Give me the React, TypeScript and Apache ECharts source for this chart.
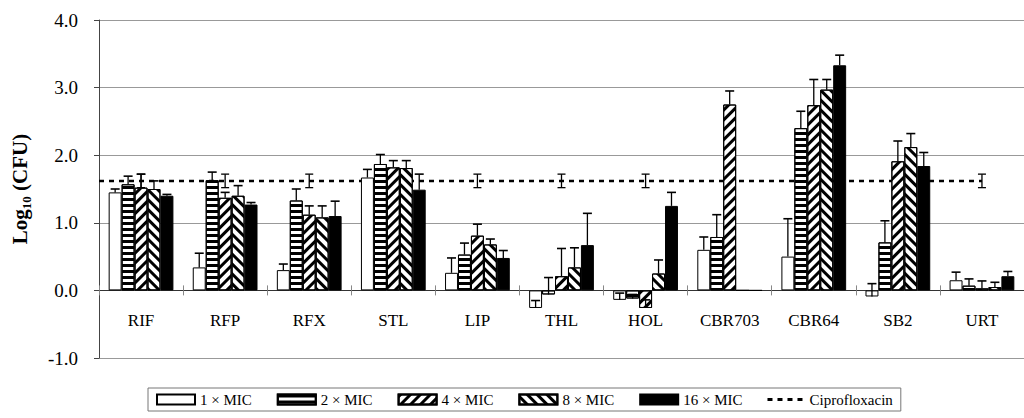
import React, { useEffect, useRef } from "react";
import * as echarts from "echarts";

const CATEGORIES = ["RIF", "RFP", "RFX", "STL", "LIP", "THL", "HOL", "CBR703", "CBR64", "SB2", "URT"];
const SERIES_NAMES = ["1 × MIC", "2 × MIC", "4 × MIC", "8 × MIC", "16 × MIC"];
const CIPRO_NAME = "Ciprofloxacin";

const MIC1 = [1.45, 0.34, 0.30, 1.67, 0.26, -0.26, -0.14, 0.60, 0.50, -0.09, 0.15];
const MIC1_ERR = [0.05, 0.21, 0.09, 0.12, 0.22, 0.11, 0.10, 0.19, 0.56, 0.19, 0.12];
const MIC2 = [1.57, 1.63, 1.33, 1.87, 0.53, -0.06, -0.12, 0.79, 2.40, 0.71, 0.07];
const MIC2_ERR = [0.12, 0.12, 0.17, 0.14, 0.17, 0.25, 0.06, 0.33, 0.25, 0.32, 0.10];
const MIC4 = [1.52, 1.37, 1.12, 1.82, 0.81, 0.21, -0.26, 2.75, 2.74, 1.91, 0.03];
const MIC4_ERR = [0.20, 0.08, 0.13, 0.10, 0.17, 0.41, 0.12, 0.20, 0.38, 0.30, 0.11];
const MIC8 = [1.50, 1.40, 1.08, 1.81, 0.68, 0.34, 0.25, 0, 2.97, 2.12, 0.05];
const MIC8_ERR = [0.12, 0.15, 0.17, 0.11, 0.08, 0.29, 0.20, 0, 0.15, 0.20, 0.07];
const MIC16 = [1.40, 1.27, 1.10, 1.49, 0.48, 0.67, 1.25, 0, 3.33, 1.84, 0.21];
const MIC16_ERR = [0.02, 0.03, 0.22, 0.23, 0.11, 0.47, 0.20, 0, 0.15, 0.20, 0.07];
const CIPRO = [1.62, 1.62, 1.62, 1.62, 1.62, 1.62, 1.62, 1.62, 1.62, 1.62, 1.62];
const CIPRO_ERR = [0.10, 0.10, 0.10, 0.10, 0.10, 0.10, 0.10, 0.10, 0.10, 0.10, 0.10];

const Y_MIN = -1;
const Y_MAX = 4;
const Y_STEP = 1;

const VALUES = [MIC1, MIC2, MIC4, MIC8, MIC16];
const ERRORS = [MIC1_ERR, MIC2_ERR, MIC4_ERR, MIC8_ERR, MIC16_ERR];

const FONT = "'Liberation Serif', 'Times New Roman', serif";
const GAP = 0.23;

const GRID_TOP = 20;
const GRID_BOTTOM = 60;
const CHART_H = 418;
// distance from bottom of plot (at Y_MIN) up to the zero line
const ZERO_OFFSET = ((CHART_H - GRID_TOP - GRID_BOTTOM) * (0 - Y_MIN)) / (Y_MAX - Y_MIN);

const DECALS: any[] = [
  null,
  { symbol: "rect", symbolSize: 1, dashArrayX: [1, 0], dashArrayY: [2.4, 2.4], rotation: 0, color: "#000" },
  { symbol: "rect", symbolSize: 1, dashArrayX: [1, 0], dashArrayY: [2.6, 4.0], rotation: -Math.PI / 4, color: "#000" },
  { symbol: "rect", symbolSize: 1, dashArrayX: [1, 0], dashArrayY: [2.6, 4.0], rotation: Math.PI / 4, color: "#000" },
  null,
];
const FILLS = ["#fff", "#fff", "#fff", "#fff", "#000"];

const DASH_ICON =
  "path://M0,0h0.01v0.01h-0.01z M0,3.6h5v2.8h-5z M10,3.6h5v2.8h-5z M20,3.6h5v2.8h-5z M30,3.6h5v2.8h-5z M35.99,9.99h0.01v0.01h-0.01z";

export default function App() {
  const ref = useRef<HTMLDivElement>(null);
  useEffect(() => {
    if (!ref.current) return;
    const chart = echarts.init(ref.current, undefined, { renderer: "svg" });

    const barSeries = SERIES_NAMES.map((name, k) => {
      const itemStyle: any = { color: FILLS[k], borderColor: "#000", borderWidth: 1 };
      if (DECALS[k]) itemStyle.decal = DECALS[k];
      return {
        name,
        type: "bar",
        xAxisIndex: 0,
        yAxisIndex: 0,
        barGap: "0%",
        barCategoryGap: GAP * 100 + "%",
        itemStyle,
        z: 3,
        data: VALUES[k],
      };
    });

    const errData: number[][] = [];
    VALUES.forEach((vals, k) => {
      vals.forEach((v, i) => {
        if (ERRORS[k][i] > 0) errData.push([i, k, v, ERRORS[k][i]]);
      });
    });

    const option: any = {
      animation: false,
      backgroundColor: "#fff",
      grid: { left: 99, top: GRID_TOP, bottom: GRID_BOTTOM, right: -9 },
      legend: {
        left: 148,
        top: 388,
        padding: [4, 8, 4, 8],
        borderColor: "#777",
        borderWidth: 1,
        itemWidth: 38,
        itemHeight: 10,
        itemGap: 25,
        textStyle: { fontFamily: FONT, fontSize: 15, color: "#000" },
        data: [
          ...SERIES_NAMES.map((name) => ({ name, icon: "rect" })),
          { name: CIPRO_NAME, icon: DASH_ICON, itemStyle: { color: "#000", borderWidth: 0 } },
        ],
      },
      xAxis: [
        {
          type: "category",
          data: CATEGORIES,
          position: "bottom",
          offset: -ZERO_OFFSET,
          axisLine: { onZero: false, lineStyle: { color: "#333", width: 1 } },
          axisTick: { show: true, length: 5, lineStyle: { color: "#888" } },
          axisLabel: { margin: 22, fontFamily: FONT, fontSize: 17, color: "#000" },
          splitLine: { show: false },
        },
        {
          type: "value",
          min: 0,
          max: CATEGORIES.length,
          show: false,
          position: "top",
          axisLine: { onZero: false },
        },
        {
          type: "category",
          data: CATEGORIES,
          position: "bottom",
          offset: -ZERO_OFFSET,
          axisLine: { show: false, onZero: false },
          axisTick: { show: true, inside: true, length: 5, lineStyle: { color: "#888" } },
          axisLabel: { show: false },
          splitLine: { show: false },
        },
      ],
      yAxis: {
        type: "value",
        min: Y_MIN,
        max: Y_MAX,
        interval: Y_STEP,
        axisLine: { show: true, onZero: false, lineStyle: { color: "#444" } },
        axisTick: { show: true, length: 5, lineStyle: { color: "#444" } },
        axisLabel: {
          margin: 21,
          fontFamily: FONT,
          fontSize: 19,
          color: "#000",
          formatter: (v: number) => v.toFixed(1),
        },
        splitLine: { show: true, lineStyle: { color: "#999", width: 1 } },
        name: "{b|Log}{s|10}{b| (CFU)}",
        nameLocation: "middle",
        nameGap: 66,
        nameRotate: 90,
        nameTextStyle: {
          rich: {
            b: { fontFamily: FONT, fontWeight: "bold", fontSize: 21, color: "#000", lineHeight: 26 },
            s: { fontFamily: FONT, fontWeight: "bold", fontSize: 13, color: "#000", lineHeight: 26, verticalAlign: "bottom" },
          },
        },
      },
      series: [
        {
          name: CIPRO_NAME,
          type: "line",
          xAxisIndex: 1,
          yAxisIndex: 0,
          symbol: "none",
          z: 1,
          lineStyle: { color: "#000", width: 2.5, type: [5, 5] },
          itemStyle: { color: "#000" },
          data: [[0, CIPRO[0]], ...CATEGORIES.map((_, i) => [i + 0.5, CIPRO[i]])],
        },
        {
          name: "cipro-err",
          type: "custom",
          xAxisIndex: 1,
          yAxisIndex: 0,
          z: 1,
          encode: { x: 0, y: 1 },
          data: CATEGORIES.map((_, i) => [i + 0.5, CIPRO[i], CIPRO_ERR[i]]),
          renderItem: (params: any, api: any) => {
            const x = api.value(0), v = api.value(1), e = api.value(2);
            const lo = api.coord([x, v - e]);
            const hi = api.coord([x, v + e]);
            const cx = lo[0];
            const st = { stroke: "#000", lineWidth: 1.3 };
            return {
              type: "group",
              children: [
                { type: "line", shape: { x1: cx, y1: lo[1], x2: cx, y2: hi[1] }, style: st },
                { type: "line", shape: { x1: cx - 4, y1: lo[1], x2: cx + 4, y2: lo[1] }, style: st },
                { type: "line", shape: { x1: cx - 4, y1: hi[1], x2: cx + 4, y2: hi[1] }, style: st },
              ],
            };
          },
        },
        ...barSeries,
        {
          name: "bar-err",
          type: "custom",
          xAxisIndex: 0,
          yAxisIndex: 0,
          z: 5,
          encode: { x: 0, y: 2 },
          data: errData,
          renderItem: (params: any, api: any) => {
            const i = api.value(0), k = api.value(1), v = api.value(2), e = api.value(3);
            const band = api.size([1, 0])[0];
            const bw = (band * (1 - GAP)) / SERIES_NAMES.length;
            const base = api.coord([i, v]);
            const top = api.coord([i, v + e]);
            const cx = base[0] + (k - (SERIES_NAMES.length - 1) / 2) * bw;
            const st = { stroke: "#000", lineWidth: 1.3 };
            return {
              type: "group",
              children: [
                { type: "line", shape: { x1: cx, y1: base[1], x2: cx, y2: top[1] }, style: st },
                { type: "line", shape: { x1: cx - 4.5, y1: top[1], x2: cx + 4.5, y2: top[1] }, style: { stroke: "#000", lineWidth: 1.6 } },
              ],
            };
          },
        },
      ],
    };
    chart.setOption(option);
    return () => chart.dispose();
  }, []);
  return (
    <div
      ref={ref}
      style={{ position: "absolute", left: 0, top: 0, width: 1024, height: 418, background: "#fff" }}
    />
  );
}
